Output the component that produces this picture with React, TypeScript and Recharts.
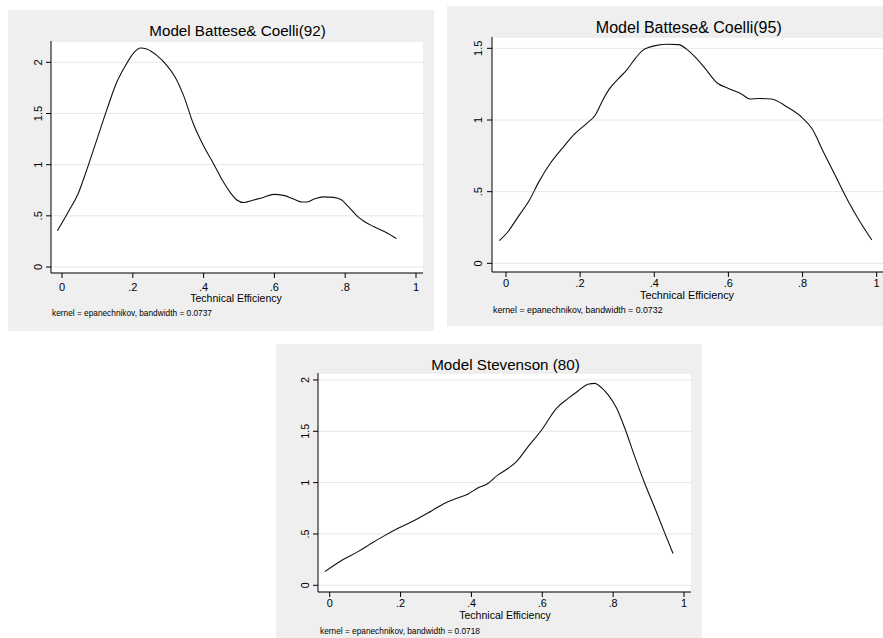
import React from "react";
import { LineChart, Line, XAxis, YAxis, CartesianGrid } from "recharts";

const FONT = "'Liberation Sans', Arial, Helvetica, sans-serif";

// ---- tick values / labels ----
const xTicks = [0, 0.2, 0.4, 0.6, 0.8, 1];
const xTickLabels = ["0", ".2", ".4", ".6", ".8", "1"];
const yTicksTo2 = [0, 0.5, 1, 1.5, 2];
const yTickLabelsTo2 = ["0", ".5", "1", "1.5", "2"];
const yTicksTo15 = [0, 0.5, 1, 1.5];
const yTickLabelsTo15 = ["0", ".5", "1", "1.5"];

const xAxisTitle = "Technical Efficiency";

// ---- Model Battese & Coelli (92) ----
const bc92Title = "Model Battese& Coelli(92)";
const bc92Note = "kernel = epanechnikov, bandwidth = 0.0737";
const bc92X = [-0.013, 0.018, 0.046, 0.063, 0.098, 0.126, 0.154, 0.183, 0.202, 0.222, 0.239, 0.267, 0.296, 0.319, 0.343, 0.371, 0.399, 0.428, 0.456, 0.475, 0.494, 0.513, 0.541, 0.569, 0.598, 0.626, 0.654, 0.678, 0.692, 0.716, 0.739, 0.767, 0.79, 0.809, 0.833, 0.852, 0.88, 0.917, 0.945];
const bc92Y = [0.355, 0.54, 0.72, 0.88, 1.24, 1.53, 1.8, 1.99, 2.09, 2.14, 2.13, 2.07, 1.97, 1.86, 1.68, 1.4, 1.19, 1.01, 0.83, 0.73, 0.655, 0.63, 0.655, 0.68, 0.71, 0.7, 0.665, 0.635, 0.635, 0.67, 0.685, 0.68, 0.655, 0.59, 0.5, 0.45, 0.395, 0.335, 0.277];

// ---- Model Battese & Coelli (95) ----
const bc95Title = "Model Battese& Coelli(95)";
const bc95Note = "kernel = epanechnikov, bandwidth = 0.0732";
const bc95X = [-0.018, 0.002, 0.033, 0.063, 0.089, 0.12, 0.151, 0.182, 0.218, 0.241, 0.259, 0.277, 0.304, 0.326, 0.349, 0.368, 0.403, 0.438, 0.465, 0.488, 0.51, 0.537, 0.569, 0.6, 0.636, 0.658, 0.681, 0.716, 0.757, 0.798, 0.825, 0.856, 0.892, 0.924, 0.955, 0.987];
const bc95Y = [0.158, 0.21, 0.326, 0.44, 0.57, 0.7, 0.8, 0.895, 0.977, 1.035, 1.128, 1.21, 1.29, 1.35, 1.43, 1.484, 1.519, 1.528, 1.526, 1.493, 1.44, 1.36, 1.26, 1.22, 1.18, 1.147, 1.15, 1.147, 1.093, 1.019, 0.942, 0.779, 0.593, 0.43, 0.29, 0.163];

// ---- Model Stevenson (80) ----
const stevTitle = "Model Stevenson (80)";
const stevNote = "kernel = epanechnikov, bandwidth = 0.0718";
const stevX = [-0.014, 0.028, 0.08, 0.118, 0.155, 0.193, 0.24, 0.287, 0.325, 0.353, 0.391, 0.419, 0.443, 0.475, 0.504, 0.527, 0.56, 0.598, 0.64, 0.673, 0.701, 0.729, 0.748, 0.767, 0.786, 0.81, 0.833, 0.861, 0.889, 0.918, 0.946, 0.969];
const stevY = [0.133, 0.23, 0.328, 0.41, 0.484, 0.555, 0.633, 0.724, 0.8, 0.84, 0.89, 0.95, 0.984, 1.075, 1.14, 1.205, 1.35, 1.513, 1.724, 1.82, 1.893, 1.958, 1.967, 1.925, 1.854, 1.724, 1.529, 1.253, 0.994, 0.75, 0.506, 0.31];

type Spec = {
  gray: { left: number; top: number; w: number; h: number };
  plot: { left: number; right: number; top: number; bottom: number };
  x0: number; xUnit: number; // pixel of x=0, pixels per unit
  y0: number; yUnit: number; // pixel of y=0, pixels per unit
  yTicks: number[]; yLabels: string[];
  xs: number[]; ys: number[];
  title: string; titleX: number; titleY: number; titleFs: number;
  tickFs: number; xTickOff: number; yTickOff: number;
  axisTitleX: number; axisTitleY: number; axisTitleFs: number;
  note: string; noteX: number; noteY: number; noteFs: number;
};

const specs: Spec[] = [
  {
    gray: { left: 8, top: 10, w: 426, h: 321 },
    plot: { left: 51, right: 423, top: 41, bottom: 273 },
    x0: 62, xUnit: 354, y0: 267, yUnit: 102.33,
    yTicks: yTicksTo2, yLabels: yTickLabelsTo2,
    xs: bc92X, ys: bc92Y,
    title: bc92Title, titleX: 237.5, titleY: 31, titleFs: 15.2,
    tickFs: 11, xTickOff: 14, yTickOff: 12.5,
    axisTitleX: 236, axisTitleY: 298.5, axisTitleFs: 10.5,
    note: bc92Note, noteX: 52, noteY: 313, noteFs: 8.3,
  },
  {
    gray: { left: 447, top: 6, w: 436, h: 320 },
    plot: { left: 492, right: 883, top: 37, bottom: 272 },
    x0: 506, xUnit: 370.67, y0: 263.33, yUnit: 143.33,
    yTicks: yTicksTo15, yLabels: yTickLabelsTo15,
    xs: bc95X, ys: bc95Y,
    title: bc95Title, titleX: 688.8, titleY: 27, titleFs: 16,
    tickFs: 11, xTickOff: 11, yTickOff: 14,
    axisTitleX: 687, axisTitleY: 295.5, axisTitleFs: 10.8,
    note: bc95Note, noteX: 493, noteY: 309.5, noteFs: 8.8,
  },
  {
    gray: { left: 276, top: 344, w: 426, h: 294 },
    plot: { left: 318, right: 691, top: 373, bottom: 592 },
    x0: 329.7, xUnit: 354.3, y0: 585.3, yUnit: 102.67,
    yTicks: yTicksTo2, yLabels: yTickLabelsTo2,
    xs: stevX, ys: stevY,
    title: stevTitle, titleX: 505.5, titleY: 365, titleFs: 15.2,
    tickFs: 10.8, xTickOff: 11.5, yTickOff: 12.5,
    axisTitleX: 505, axisTitleY: 615.5, axisTitleFs: 10.5,
    note: stevNote, noteX: 320, noteY: 631, noteFs: 8.3,
  },
];

const Y_AXIS_W = 30;
const X_AXIS_H = 30;

function Panel({ s }: { s: Spec }) {
  const { gray, plot } = s;
  const data = s.xs.map((x, i) => ({ x, y: s.ys[i] }));
  const margin = {
    left: plot.left - gray.left - Y_AXIS_W,
    top: plot.top - gray.top,
    right: gray.left + gray.w - plot.right,
    bottom: gray.top + gray.h - plot.bottom - X_AXIS_H,
  };
  const xDomain = [(plot.left - s.x0) / s.xUnit, (plot.right - s.x0) / s.xUnit];
  const yDomain = [(s.y0 - plot.bottom) / s.yUnit, (s.y0 - plot.top) / s.yUnit];
  const axisYLocal = plot.bottom - gray.top;
  const axisXLocal = plot.left - gray.left;

  const renderXTick = (p: any) => {
    const idx = xTicks.indexOf(p.payload.value);
    return (
      <text x={p.x} y={axisYLocal + s.xTickOff} dy="0.36em" textAnchor="middle"
        fontSize={s.tickFs} fontFamily={FONT} fill="#000">
        {idx >= 0 ? xTickLabels[idx] : ""}
      </text>
    );
  };
  const renderYTick = (p: any) => {
    const idx = s.yTicks.indexOf(p.payload.value);
    const cx = axisXLocal - s.yTickOff;
    const cy = p.y;
    return (
      <text x={cx} y={cy} dy="0.36em" textAnchor="middle" transform={`rotate(-90, ${cx}, ${cy})`}
        fontSize={s.tickFs} fontFamily={FONT} fill="#000">
        {idx >= 0 ? s.yLabels[idx] : ""}
      </text>
    );
  };

  return (
    <div style={{ position: "absolute", left: gray.left, top: gray.top, width: gray.w, height: gray.h, background: "#efefef" }}>
      <LineChart width={gray.w} height={gray.h} data={data} margin={margin}>
        <CartesianGrid vertical={false} horizontal={true} stroke="#e6e6e6" fill="#ffffff" strokeWidth={1} />
        <XAxis dataKey="x" type="number" domain={xDomain} ticks={xTicks} allowDataOverflow
          height={X_AXIS_H} tickSize={5} tickMargin={0} interval={0}
          axisLine={{ stroke: "#000", strokeWidth: 1 }} tickLine={{ stroke: "#000" }} tick={renderXTick} />
        <YAxis type="number" domain={yDomain} ticks={s.yTicks} allowDataOverflow
          width={Y_AXIS_W} tickSize={5} tickMargin={0} interval={0}
          axisLine={{ stroke: "#000", strokeWidth: 1 }} tickLine={{ stroke: "#000" }} tick={renderYTick} />
        <Line type="monotone" dataKey="y" stroke="#111" strokeWidth={1.1} dot={false} isAnimationActive={false} />
      </LineChart>
      <svg width={gray.w} height={gray.h} style={{ position: "absolute", left: 0, top: 0, pointerEvents: "none" }}>
        <text x={s.titleX - gray.left} y={s.titleY - gray.top} dy="0.36em" textAnchor="middle"
          fontSize={s.titleFs} fontFamily={FONT} fill="#000">{s.title}</text>
        <text x={s.axisTitleX - gray.left} y={s.axisTitleY - gray.top} dy="0.36em" textAnchor="middle"
          fontSize={s.axisTitleFs} fontFamily={FONT} fill="#000">{xAxisTitle}</text>
        <text x={s.noteX - gray.left} y={s.noteY - gray.top} dy="0.36em" textAnchor="start"
          fontSize={s.noteFs} fontFamily={FONT} fill="#000">{s.note}</text>
      </svg>
    </div>
  );
}

export default function App() {
  return (
    <div style={{ position: "absolute", left: 0, top: 0, width: 883, height: 638, overflow: "hidden", background: "#fff" }}>
      {specs.map((s, i) => <Panel key={i} s={s} />)}
    </div>
  );
}
